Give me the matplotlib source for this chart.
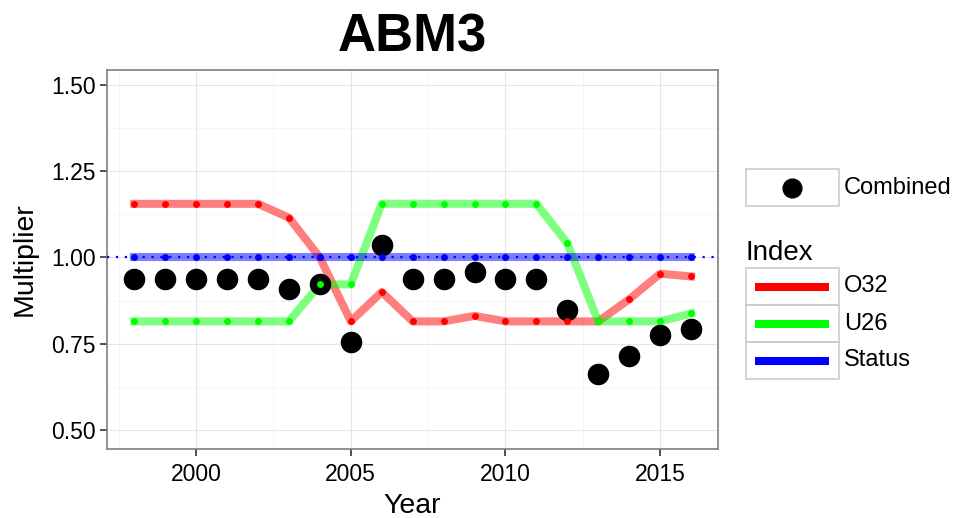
import matplotlib
matplotlib.use("Agg")
import matplotlib.pyplot as plt
from matplotlib.patches import Rectangle
from matplotlib.ticker import MultipleLocator

plt.rcParams["font.family"] = ["Liberation Sans", "DejaVu Sans"]

years = list(range(1998, 2017))
o32 = [1.155, 1.155, 1.155, 1.155, 1.155, 1.115, 1.0, 0.815, 0.90, 0.815,
       0.815, 0.831, 0.815, 0.815, 0.815, 0.815, 0.879, 0.953, 0.945]
u26 = [0.815, 0.815, 0.815, 0.815, 0.815, 0.815, 0.922, 0.922, 1.155, 1.155,
       1.155, 1.155, 1.155, 1.155, 1.041, 0.815, 0.815, 0.815, 0.838]
status = [1.0] * len(years)
combined = [0.939, 0.939, 0.939, 0.939, 0.939, 0.908, 0.922, 0.756, 1.037, 0.939,
            0.939, 0.959, 0.939, 0.939, 0.847, 0.664, 0.715, 0.777, 0.792]

series = [("O32", o32, "#FF0000"), ("U26", u26, "#00FF00"), ("Status", status, "#0000FF")]

W, H = 954, 518
fig = plt.figure(figsize=(W / 100, H / 100), dpi=100)
ax = fig.add_axes([107 / W, (H - 449) / H, (718 - 107) / W, (449 - 70) / H])

# grid like ggplot theme_bw
ax.set_xlim(1997.12, 2016.87)
ax.set_ylim(0.446, 1.542)
ax.xaxis.set_major_locator(MultipleLocator(5))
ax.xaxis.set_minor_locator(MultipleLocator(2.5))
ax.yaxis.set_major_locator(MultipleLocator(0.25))
ax.yaxis.set_minor_locator(MultipleLocator(0.125))
ax.yaxis.set_major_formatter(plt.FuncFormatter(lambda v, p: f"{v:.2f}"))
ax.grid(which="major", color="#e5e5e5", lw=0.8)
ax.grid(which="minor", color="#f4f4f4", lw=0.6)
ax.set_axisbelow(True)
ax.tick_params(which="minor", length=0)
ax.tick_params(which="major", length=5, width=1.2, color="#333333", labelsize=16.5)
ax.tick_params(axis="x", pad=5)
ax.tick_params(axis="y", pad=3)
for s in ax.spines.values():
    s.set_color("#7f7f7f")
    s.set_linewidth(1.2)

for name, vals, col in series:
    ax.plot(years, vals, color=col, lw=5.8, alpha=0.5, solid_joinstyle="round", zorder=2)
ax.axhline(1.0, color="#0000FF", lw=1.6, ls=(0, (1, 3)), zorder=3)
ax.plot(years, combined, "o", color="black", ms=14.5, zorder=4)
for name, vals, col in series:
    ax.plot(years, vals, "o", color=col, ms=5, mew=0, zorder=5)

ax.set_xlabel("Year", fontsize=20.5, labelpad=5)
ax.set_ylabel("Multiplier", fontsize=20.5, labelpad=10)
fig.text(412 / W, (H - 51) / H, "ABM3", fontsize=38, fontweight="bold",
         ha="center", va="baseline")

# legend drawn in pixel coordinates
lg = fig.add_axes([0, 0, 1, 1])
lg.set_xlim(0, W)
lg.set_ylim(H, 0)
lg.axis("off")
lg.patch.set_alpha(0)
kx0, kx1 = 746, 839
lg.add_patch(Rectangle((kx0, 169), kx1 - kx0, 37, fill=False, ec="#cccccc", lw=1.2))
lg.plot([(kx0 + kx1) / 2], [188], "o", color="black", ms=13.5)
lg.text(844, 188, "Combined", fontsize=17, va="center", ha="left")
lg.text(746, 260, "Index", fontsize=20, va="baseline", ha="left")
ky = 268
for name, vals, col in series:
    lg.add_patch(Rectangle((kx0, ky), kx1 - kx0, 37, fill=False, ec="#cccccc", lw=1.2))
    lg.plot([755, 829], [ky + 18.5] * 2, color=col, lw=5.8, solid_capstyle="butt")
    lg.text(844, ky + 18.5, name, fontsize=17, va="center", ha="left")
    ky += 37

fig.savefig("out.png", dpi=100)
